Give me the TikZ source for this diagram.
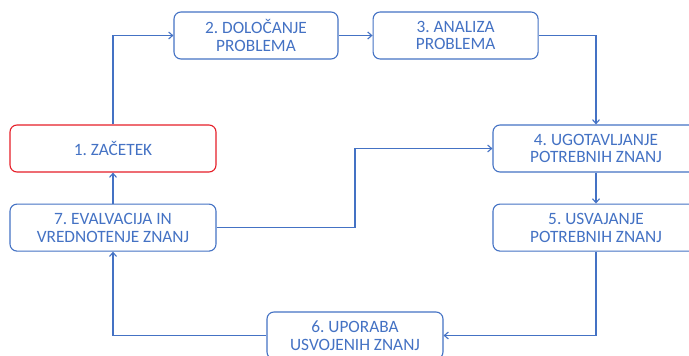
\documentclass[tikz,border=0pt]{standalone}
\usepackage{fontspec}
\setmainfont{Carlito}
\usetikzlibrary{arrows.meta, positioning}
\definecolor{stepblue}{RGB}{68,114,196}
\definecolor{startred}{RGB}{230,30,40}
\tikzset{
    stepbox/.style={rectangle, rounded corners=7pt, draw=stepblue, line width=1.1pt, fill=white, text=stepblue, align=center, font=\fontsize{17.3}{17.7}\selectfont\frenchspacing, minimum height=47pt, inner sep=0pt},
    arrow/.style={-{Straight Barb[length=4pt, width=7pt]}, stepblue, line width=1.1pt},
    line/.style={stepblue, line width=1.1pt},
}

\begin{document}
\begin{tikzpicture}[x=1pt, y=-1pt]

\useasboundingbox (0,0) rectangle (689,356);
\clip (0,0) rectangle (689,356);

% Left column
\node[stepbox, draw=startred, minimum width=206pt] (b1) at (113,148.5) {1. ZAČETEK};
\node[stepbox, minimum width=206pt, below=31pt of b1] (b7) {7. EVALVACIJA IN\\VREDNOTENJE ZNANJ};

% Top row
\node[stepbox, minimum width=164pt] (b2) at (256,35.5) {2. DOLOČANJE\\PROBLEMA};
\node[stepbox, minimum width=165pt, right=34pt of b2] (b3) {3. ANALIZA\\PROBLEMA};

% Right column
\node[stepbox, minimum width=206pt] (b4) at (596,148.5) {4. UGOTAVLJANJE\\POTREBNIH ZNANJ};
\node[stepbox, minimum width=206pt, below=31pt of b4] (b5) {5. USVAJANJE\\POTREBNIH ZNANJ};

% Bottom
\node[stepbox, minimum width=176pt] (b6) at (355,335.5) {6. UPORABA\\USVOJENIH ZNANJ};

% Arrows
\draw[arrow] (b1.north) |- (b2.west);
\draw[arrow] (b2.east) -- (b3.west);
\draw[arrow] (b3.east) -| (b4.north);
\draw[arrow] (b4.south) -- (b5.north);
\draw[arrow] (b5.south) |- (b6.east);
\draw[arrow] (b6.west) -| (b7.south);
\draw[arrow] (b7.north) -- (b1.south);

% Back to step 4
\coordinate (turn) at (b6.north |- b7.east);
\draw[line] (b7.east) -- (turn);
\draw[arrow] (turn) |- (b4.west);

\end{tikzpicture}
\end{document}
